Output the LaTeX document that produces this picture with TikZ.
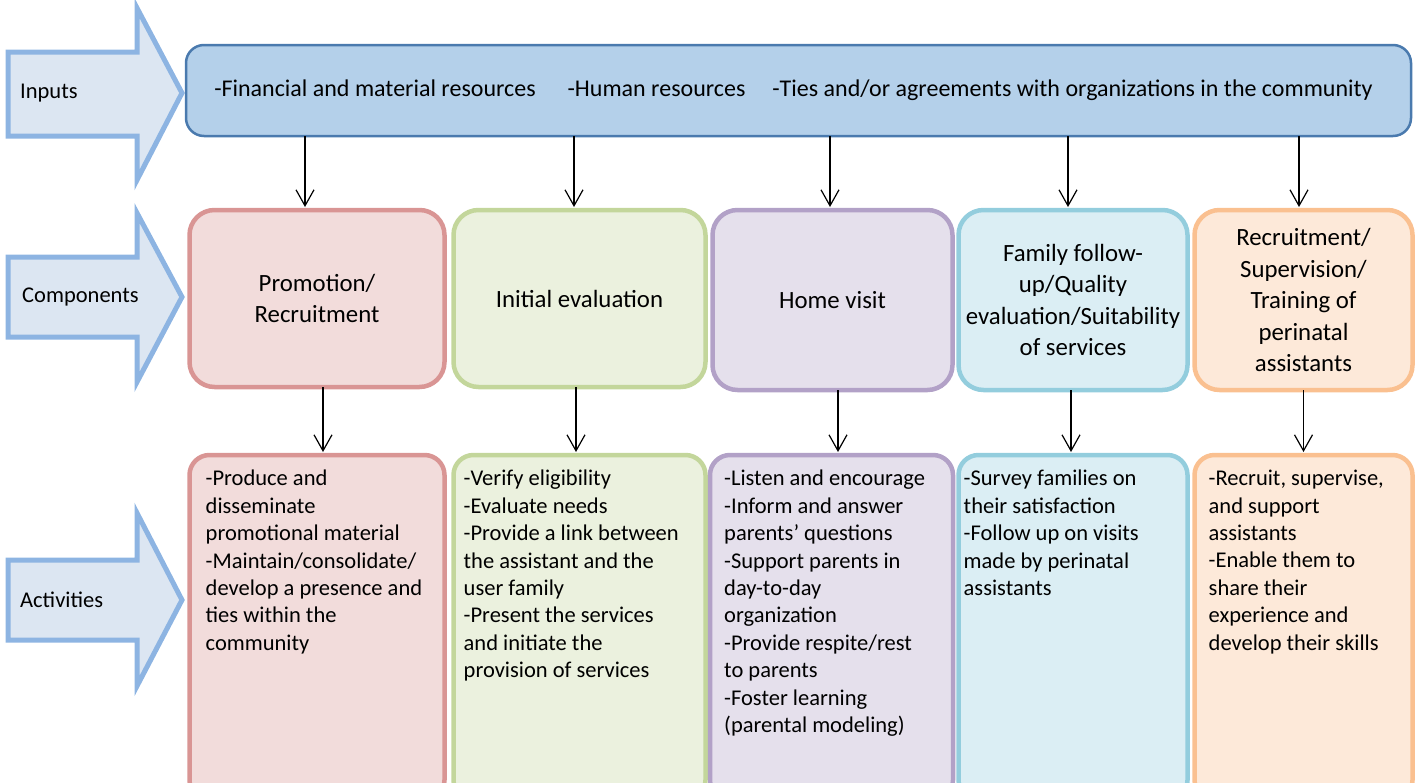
\documentclass[tikz,border=0pt]{standalone}
\usepackage{fontspec}
\setmainfont{Carlito}
\usetikzlibrary{arrows.meta}

\definecolor{stagefill}{HTML}{DCE6F2}
\definecolor{stageline}{HTML}{8DB4E2}
\definecolor{inputfill}{HTML}{B4D0EA}
\definecolor{inputline}{HTML}{4A7AAE}
\definecolor{redline}{HTML}{D99594}
\definecolor{redfill}{HTML}{F2DCDB}
\definecolor{greenline}{HTML}{C3D69B}
\definecolor{greenfill}{HTML}{EBF1DE}
\definecolor{purpleline}{HTML}{B2A1C7}
\definecolor{purplefill}{HTML}{E5E0EC}
\definecolor{blueline}{HTML}{93CDDD}
\definecolor{bluefill}{HTML}{DBEEF4}
\definecolor{orangeline}{HTML}{FAC090}
\definecolor{orangefill}{HTML}{FDE9D9}

\tikzset{
  stage/.style={draw=stageline, fill=stagefill, line width=5pt, miter limit=20},
  stagetext/.style={anchor=west, inner sep=0pt, font=\fontsize{22.5}{27.4}\selectfont},
  comp/.style={rounded corners=25pt, line width=4.5pt, outer sep=0pt, inner sep=0pt,
    align=center, font=\fontsize{24.8}{31.5}\selectfont},
  act/.style={rounded corners=20pt, line width=4.5pt, outer sep=0pt, inner sep=0pt},
  acttext/.style={anchor=north west, inner sep=0pt, align=left,
    font=\fontsize{22.5}{27.4}\selectfont},
  down/.style={-{Straight Barb[length=16pt,width=18pt]}, line width=1.2pt, shorten >=3pt},
}

\begin{document}
\begin{tikzpicture}[x={(1pt,0pt)}, y={(0pt,-1pt)}]
\useasboundingbox (0,0) rectangle (1421,782);
\clip (0,0) rectangle (1421,782);

% left arrows
\draw[stage] (8,52) -- (137,52) -- (137,8) -- (182,93) -- (137,180) -- (137,136) -- (8,136) -- cycle;
\node[stagetext] (inlabel) at (20,93) {Inputs};
\draw[stage] (8,257) -- (137,257) -- (137,213) -- (182,297) -- (137,382) -- (137,337) -- (8,337) -- cycle;
\node[stagetext] (complabel) at (22,297) {Components};
\draw[stage] (8,560) -- (137,560) -- (137,513) -- (182,600) -- (137,686) -- (137,640) -- (8,640) -- cycle;
\node[stagetext] (actlabel) at (20,600) {Activities};

% inputs
\node[draw=inputline, fill=inputfill, rounded corners=18pt, line width=2.5pt, outer sep=0pt,
  minimum width=1225pt, minimum height=91pt, font=\fontsize{24}{29}\selectfont] (inputs) at (798.5,90.5)
  {\hspace{-10pt}-Financial and material resources\hspace{32pt}-Human resources\hspace{27pt}-Ties and/or agreements with organizations in the community};

% components
\node[comp, draw=redline, fill=redfill, minimum width=255pt, minimum height=177pt] (promo) at (317,298.5)
  {Promotion/\\Recruitment};
\node[comp, draw=greenline, fill=greenfill, minimum width=252pt, minimum height=177pt] (evalu) at (579.5,298.5)
  {Initial evaluation};
\node[comp, draw=purpleline, fill=purplefill, minimum width=240pt, minimum height=180pt] (visit) at (832.5,300)
  {Home visit};
\node[comp, draw=blueline, fill=bluefill, minimum width=229pt, minimum height=180pt] (follow) at (1073,300)
  {Family follow-\\up/Quality\\evaluation/Suitability\\of services};
\node[comp, draw=orangeline, fill=orangefill, minimum width=218pt, minimum height=180pt] (train) at (1303.5,300)
  {Recruitment/\\Supervision/\\Training of\\perinatal\\assistants};

% activities
\node[act, draw=redline, fill=redfill, minimum width=255pt, minimum height=345pt, anchor=north] (promoact) at (317,455) {};
\node[act, draw=greenline, fill=greenfill, minimum width=252pt, minimum height=345pt, anchor=north] (evaluact) at (579.5,455) {};
\node[act, draw=purpleline, fill=purplefill, minimum width=243pt, minimum height=345pt, anchor=north] (visitact) at (831.5,455) {};
\node[act, draw=blueline, fill=bluefill, minimum width=229pt, minimum height=345pt, anchor=north] (followact) at (1073,455) {};
\node[act, draw=orangeline, fill=orangefill, minimum width=218pt, minimum height=345pt, anchor=north] (trainact) at (1303.5,455) {};

\node[acttext] (promotxt) at ([xshift=16pt,yshift=-15pt]promoact.north west)
  {-Produce and\\disseminate\\promotional material\\-Maintain/consolidate/\\develop a presence and\\ties within the\\community};
\node[acttext] (evalutxt) at ([xshift=10pt,yshift=-15pt]evaluact.north west)
  {-Verify eligibility\\-Evaluate needs\\-Provide a link between\\the assistant and the\\user family\\-Present the services\\and initiate the\\provision of services};
\node[acttext] (visittxt) at ([xshift=14pt,yshift=-15pt]visitact.north west)
  {-Listen and encourage\\-Inform and answer\\parents’ questions\\-Support parents in\\day-to-day\\organization\\-Provide respite/rest\\to parents\\-Foster learning\\(parental modeling)};
\node[acttext] (followtxt) at ([xshift=5pt,yshift=-15pt]followact.north west)
  {-Survey families on\\their satisfaction\\-Follow up on visits\\made by perinatal\\assistants};
\node[acttext] (traintxt) at ([xshift=14pt,yshift=-15pt]trainact.north west)
  {-Recruit, supervise,\\and support\\assistants\\-Enable them to\\share their\\experience and\\develop their skills};

% connectors
\draw[down] ([xshift=-12pt]promo.north |- inputs.south) -- ([xshift=-12pt]promo.north);
\draw[down] ([xshift=-5.5pt]evalu.north |- inputs.south) -- ([xshift=-5.5pt]evalu.north);
\draw[down] ([xshift=-2.5pt]visit.north |- inputs.south) -- ([xshift=-2.5pt]visit.north);
\draw[down] ([xshift=-5pt]follow.north |- inputs.south) -- ([xshift=-5pt]follow.north);
\draw[down] ([xshift=-4.5pt]train.north |- inputs.south) -- ([xshift=-4.5pt]train.north);

\draw[down] ([xshift=6pt]promo.south) -- ([xshift=6pt]promo.south |- promoact.north);
\draw[down] ([xshift=-3.5pt]evalu.south) -- ([xshift=-3.5pt]evalu.south |- evaluact.north);
\draw[down] ([xshift=5.5pt]visit.south) -- ([xshift=5.5pt]visit.south |- visitact.north);
\draw[down] ([xshift=-2pt]follow.south) -- ([xshift=-2pt]follow.south |- followact.north);
\draw[down] (train.south) -- (train.south |- trainact.north);
\end{tikzpicture}
\end{document}
